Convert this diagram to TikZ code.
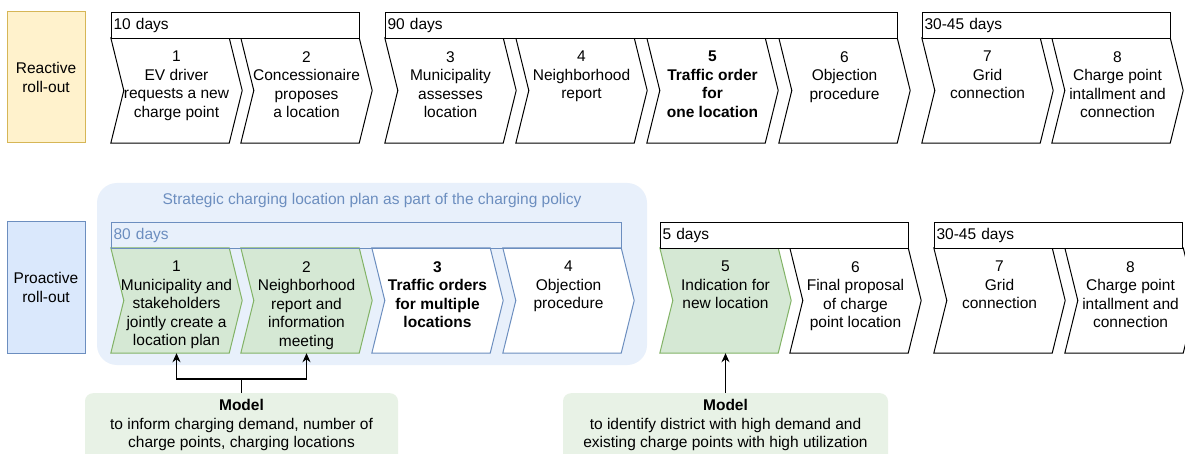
\documentclass[tikz,border=0pt]{standalone}
\usepackage{fontspec}
\setmainfont{Liberation Sans}
\usetikzlibrary{arrows.meta}
\definecolor{yfill}{HTML}{FFF2CC}
\definecolor{ystroke}{HTML}{D6B656}
\definecolor{bfill}{HTML}{DAE8FC}
\definecolor{bstroke}{HTML}{6C8EBF}
\definecolor{bbg}{HTML}{E8F0FB}
\definecolor{gfill}{HTML}{D5E8D4}
\definecolor{gstroke}{HTML}{82B366}
\definecolor{mfill}{HTML}{E8F2E6}
\newcommand\chevron[6]{%
  \node[chevbox] (#1) at (#2,#3) {};
  \path[#4] (#1.north west) -- ([xshift=-13pt]#1.north east) -- (#1.east) -- ([xshift=-13pt]#1.south east) -- (#1.south west) -- ([xshift=13pt]#1.west) -- cycle;
  \node[chevtext,#5] (#1t) at ([yshift=-13.3pt]#1.north) {#6};
}
\tikzset{
  chevbox/.style={rectangle, draw=none, minimum width=131pt, minimum height=105pt, inner sep=0pt},
  txt/.style={font=\fontsize{15.5pt}{18.5pt}\selectfont},
  boldtxt/.style={font=\fontsize{15.5pt}{18.5pt}\selectfont\bfseries},
  chevtext/.style={anchor=north, align=center, inner sep=0pt, txt},
  kchev/.style={draw=black, fill=white, line width=1pt},
  gchev/.style={draw=gstroke, fill=gfill, line width=1pt},
  bchev/.style={draw=bstroke, fill=white, line width=1pt},
  dur/.style={draw=black, fill=white, line width=1pt, anchor=north west, minimum height=26pt, inner xsep=2pt, inner ysep=0pt, align=left, txt},
  rollbox/.style={line width=1pt, minimum width=78pt, minimum height=131pt, align=center, txt},
  modelbox/.style={fill=mfill, rounded corners=8pt, minimum height=80pt, anchor=north, inner sep=0pt},
  modeltext/.style={anchor=north, align=center, inner sep=0pt, txt},
  arr/.style={-{Stealth[length=9pt,width=8pt]}, line width=1.3pt},
  conn/.style={line width=1.3pt}
}
\begin{document}
\begin{tikzpicture}[x=1pt,y=-1pt]
\clip (0,0) rectangle (1185,454);
\fill[white] (0,0) rectangle (1185,454);
% roll-out labels
\node[rollbox, draw=ystroke, fill=yfill] (react) at (46,77.5) {Reactive\\roll-out};
\node[rollbox, draw=bstroke, fill=bfill] (proact) at (46,287.5) {Proactive\\roll-out};
% top row
\chevron{a1}{176.5}{90.5}{kchev}{}{1\\EV driver\\requests a new\\charge point}
\chevron{a2}{306.5}{90.5}{kchev}{}{2\\Concessionaire\\proposes\\a location}
\chevron{a3}{450.5}{90.5}{kchev}{}{3\\Municipality\\assesses\\location}
\chevron{a4}{581.5}{90.5}{kchev}{}{4\\Neighborhood\\report}
\chevron{a5}{712.5}{90.5}{kchev}{boldtxt}{5\\Traffic order\\for\\one location}
\chevron{a6}{844.5}{90.5}{kchev}{}{6\\Objection\\procedure}
\chevron{a7}{987.5}{90.5}{kchev}{}{7\\Grid\\connection}
\chevron{a8}{1117.5}{90.5}{kchev}{}{8\\Charge point\\intallment and\\connection}
\node[dur, minimum width=248pt, text width=244pt] (d1) at (111,12) {10 days};
\node[dur, minimum width=512pt, text width=508pt] (d2) at (385,12) {90 days};
\node[dur, minimum width=248pt, text width=244pt] (d3) at (922,12) {30-45 days};
% bottom row background
\node[fill=bbg, draw=none, rounded corners=20pt, minimum width=550pt, minimum height=182pt, inner sep=0pt] (bg) at (372,274) {};
\node[txt, text=bstroke, inner sep=0pt] (strat) at (372,200) {Strategic charging location plan as part of the charging policy};
% bottom row
\chevron{b1}{176.5}{300.5}{gchev}{}{1\\Municipality and\\stakeholders\\jointly create a\\location plan}
\chevron{b2}{306.5}{300.5}{gchev}{}{2\\Neighborhood\\report and\\information\\meeting}
\chevron{b3}{437.5}{300.5}{bchev}{boldtxt}{3\\Traffic orders\\for multiple\\locations}
\chevron{b4}{568.5}{300.5}{bchev}{}{4\\Objection\\procedure}
\chevron{b5}{725.5}{300.5}{gchev}{}{5\\Indication for\\new location}
\chevron{b6}{855.5}{300.5}{kchev}{}{6\\Final proposal\\of charge\\point location}
\chevron{b7}{999.5}{300.5}{kchev}{}{7\\Grid\\connection}
\chevron{b8}{1130.5}{300.5}{kchev}{}{8\\Charge point\\intallment and\\connection}
\node[dur, draw=bstroke, fill=none, text=bstroke, minimum width=510pt, text width=506pt] (e1) at (111,222) {80 days};
\node[dur, minimum width=248pt, text width=244pt] (e2) at (660,222) {5 days};
\node[dur, minimum width=248pt, text width=244pt] (e3) at (934,222) {30-45 days};
% models
\node[modelbox, minimum width=313pt] (m1) at (241.5,393) {};
\node[modeltext] (m1t) at ([yshift=-6.5pt]m1.north) {\textbf{Model}\\to inform charging demand, number of\\charge points, charging locations};
\node[modelbox, minimum width=325pt] (m2) at (725.5,393) {};
\node[modeltext] (m2t) at ([yshift=-6.5pt]m2.north) {\textbf{Model}\\to identify district with high demand and\\existing charge points with high utilization};
% connectors
\coordinate (j1) at (241.5,379);
\draw[conn] (m1.north) -- (j1);
\draw[arr] (j1) -| (b1.south);
\draw[arr] (j1) -| (b2.south);
\draw[arr] (m2.north) -- (b5.south);
\end{tikzpicture}
\end{document}
